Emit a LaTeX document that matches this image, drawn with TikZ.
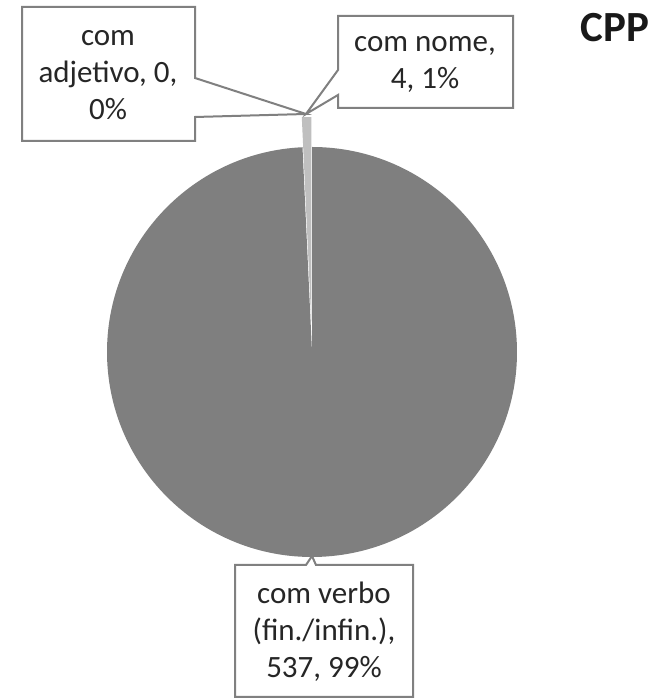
\documentclass[tikz,border=0pt]{standalone}
\usepackage{fontspec}
\setmainfont{Carlito}
\usetikzlibrary{calc}
\definecolor{piegray}{HTML}{7F7F7F}
\definecolor{slicegray}{HTML}{BFBFBF}
\definecolor{linegray}{HTML}{808080}
\begin{document}
\begin{tikzpicture}[x=1pt,y=1pt,
  callout/.style={draw=linegray,line width=2pt,fill=white,line join=miter},
  lbl/.style={align=center,text=black!85,font=\fontsize{31}{37}\selectfont},
  title/.style={text=black!90,font=\fontsize{43}{50}\selectfont\bfseries}]
\useasboundingbox (0,0) rectangle (666,698);
\coordinate (c) at (312,346);
\coordinate (tip) at (306,584);
\fill[piegray] (c) -- ++(92.66:205) arc[start angle=92.66,end angle=450,radius=205] -- cycle;
\coordinate (cn) at ($(c)+(91.33:30)$);
\fill[slicegray] (cn) -- ++(90:205) arc[start angle=90,end angle=92.66,radius=205] -- cycle;
\draw[callout] (22,691) -- (195,691) -- (195,620) -- (tip) -- (195,581) -- (195,557) -- (22,557) -- cycle;
\draw[callout] (338,682) -- (513,682) -- (513,590) -- (338,590) -- (338,603) -- (tip) -- (338,628) -- cycle;
\draw[callout] (235,133) -- (306,133) -- (312,142) -- (316,133) -- (413,133) -- (413,1) -- (235,1) -- cycle;
\node[lbl] (adj) at (108,623) {com\\adjetivo, 0,\\0\%};
\node[lbl] (nome) at (425,634) {com nome,\\4, 1\%};
\node[lbl] (verbo) at (324,66) {com verbo\\(fin./infin.),\\537, 99\%};
\node[title] (cpp) at (615,670) {CPP};
\end{tikzpicture}
\end{document}
